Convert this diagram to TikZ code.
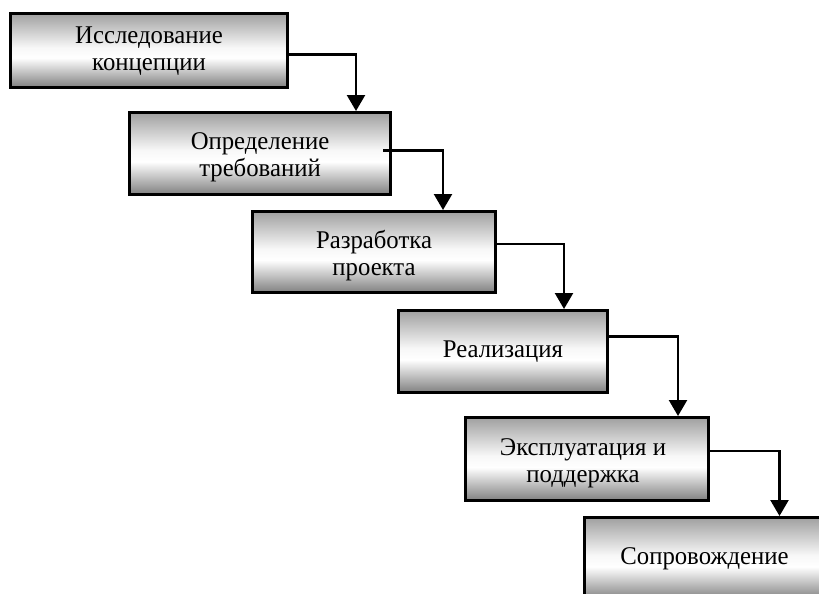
\documentclass[tikz,border=0pt]{standalone}
\usepackage{fontspec}
\setmainfont[FakeStretch=0.97]{Liberation Serif}
\usetikzlibrary{arrows.meta}
% grey band at the top, white just below the middle, darker grey at the bottom
\definecolor{shtop}{HTML}{A0A0A0}
\definecolor{shbot}{HTML}{808080}
\pgfdeclareverticalshading{stageshade}{100bp}{color(0bp)=(shbot); color(25bp)=(shbot); color(45bp)=(white); color(52bp)=(white!97!black); color(75bp)=(shtop); color(100bp)=(shtop)}
\begin{document}
\begin{tikzpicture}[x=1pt,y=-1pt,
  stage/.style={draw=black, line width=3pt, shading=stageshade, rectangle, inner sep=0pt, anchor=north west},
  stagetext/.style={align=center, font=\fontsize{25.5}{27}\selectfont, inner sep=0pt},
  flow/.style={line width=2.4pt, -{Triangle[width=18pt,length=16pt]}}]
\useasboundingbox (0,0) rectangle (819,594);
\clip (0,0) rectangle (819,594);

% stage boxes
\node[stage, minimum width=277pt, minimum height=74pt] (b1) at (9,12) {};
\node[stage, minimum width=261pt, minimum height=82pt] (b2) at (128,111) {};
\node[stage, minimum width=243pt, minimum height=81pt] (b3) at (251,210) {};
\node[stage, minimum width=209pt, minimum height=82pt] (b4) at (397,309) {};
\node[stage, minimum width=243pt, minimum height=83pt] (b5) at (464,416) {};
\node[stage, minimum width=240pt, minimum height=82pt] (b6) at (583,516) {};

% stage titles
\node[stagetext] (t1) at ([yshift=-1pt]b1.center) {Исследование\\концепции};
\node[stagetext] (t2) at ([yshift=-4pt]b2.center) {Определение\\требований};
\node[stagetext] (t3) at ([yshift=-4pt]b3.center) {Разработка\\проекта};
\node[stagetext] (t4) at ([yshift=0pt]b4.center) {Реализация};
\node[stagetext] (t5) at ([xshift=-4pt,yshift=-4pt]b5.center) {Эксплуатация и\\поддержка};
\node[stagetext] (t6) at ([yshift=0pt]b6.center) {Сопровождение};

% transitions between stages
\draw[flow] ([yshift=-4pt]b1.east) -| ([xshift=96pt]b2.north);
\draw[flow] ([xshift=-9pt,yshift=3pt]b2.east) -| ([xshift=69pt]b3.north);
\draw[flow] ([yshift=8pt]b3.east) -| ([xshift=61pt]b4.north);
\draw[flow] ([yshift=15pt]b4.east) -| ([xshift=91pt]b5.north);
\draw[flow] ([yshift=8pt]b5.east) -| ([xshift=75pt]b6.north);
\end{tikzpicture}
\end{document}
